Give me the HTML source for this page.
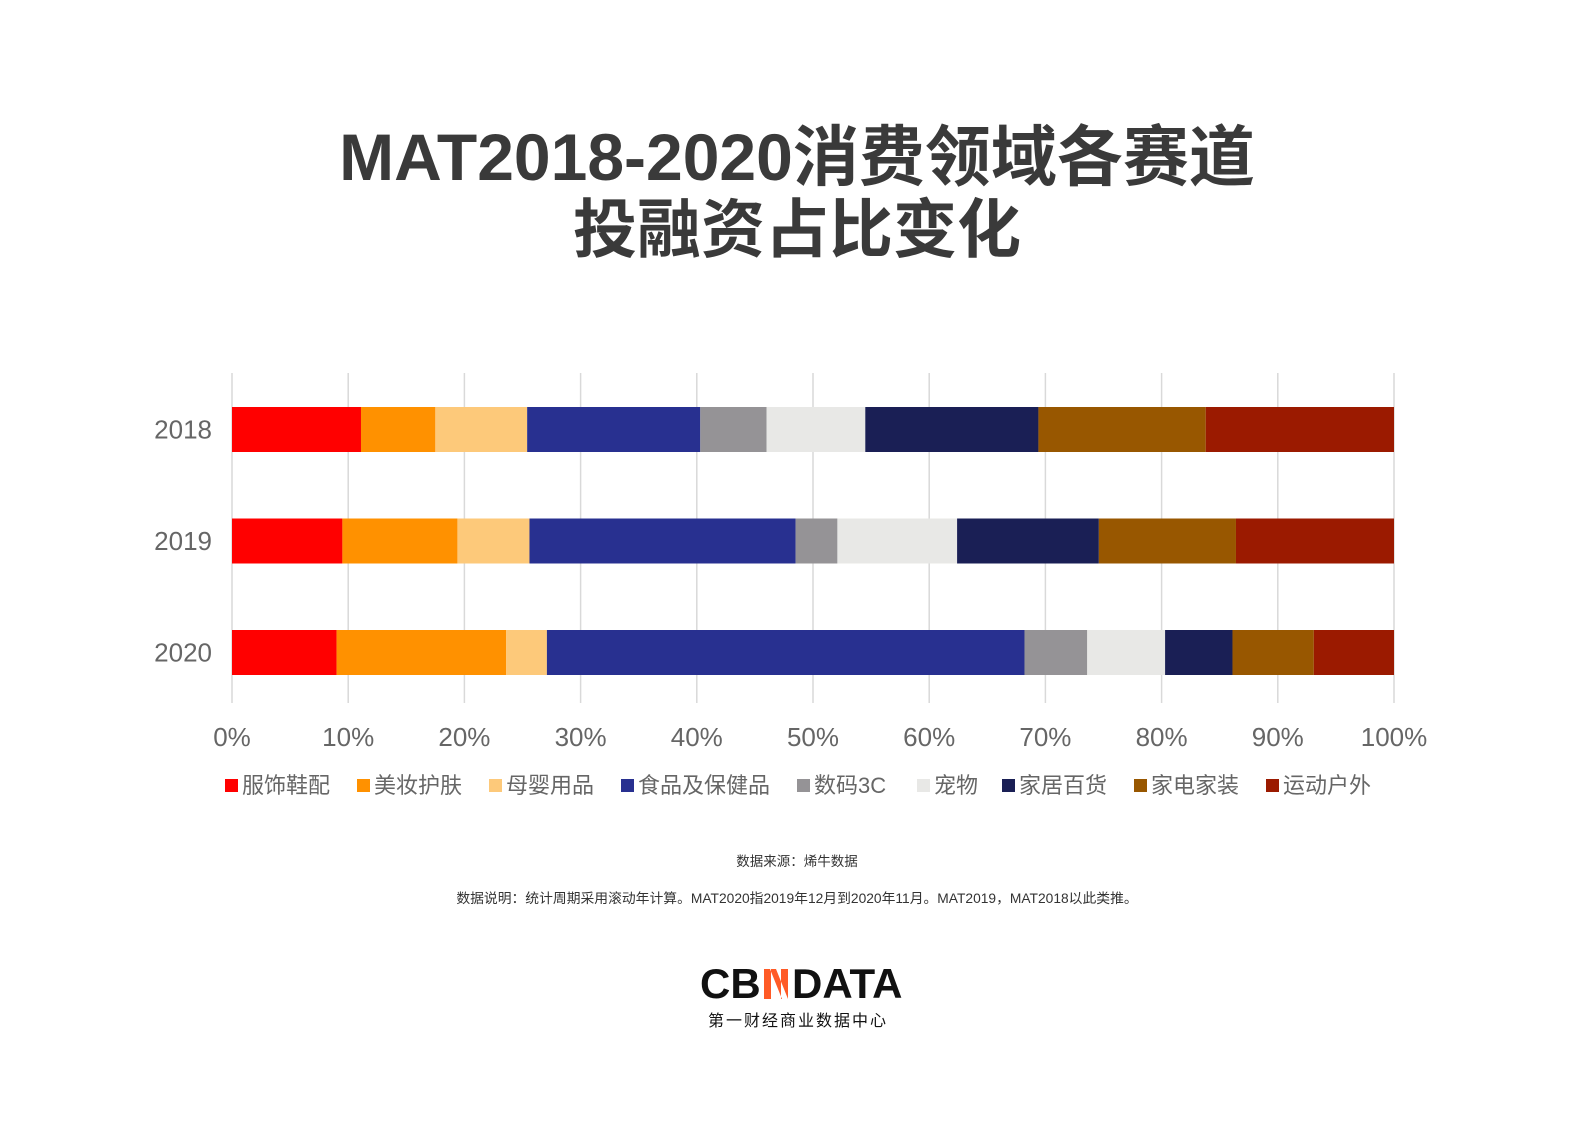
<!DOCTYPE html>
<html><head><meta charset="utf-8"><style>
body{margin:0;width:1594px;height:1130px;background:#fff;overflow:hidden;font-family:"Liberation Sans","Noto Sans CJK SC",sans-serif}
</style></head><body>
<svg id="chart" width="1594" height="1130" xmlns="http://www.w3.org/2000/svg">
<text x="797" y="180" text-anchor="middle" font-size="66" font-weight="bold" fill="#3a3a3a" font-family="Liberation Sans,Noto Sans CJK SC,sans-serif">MAT2018-2020消费领域各赛道</text>
<text x="797" y="252" text-anchor="middle" font-size="64" font-weight="bold" fill="#3a3a3a" font-family="Liberation Sans,Noto Sans CJK SC,sans-serif">投融资占比变化</text>
<g id="grid"></g><g id="bars"></g><g id="legend"></g>
<text x="797" y="866" text-anchor="middle" font-size="13.5" fill="#333">数据来源：烯牛数据</text>
<text x="797" y="903" text-anchor="middle" font-size="13.8" fill="#333">数据说明：统计周期采用滚动年计算。MAT2020指2019年12月到2020年11月。MAT2019，MAT2018以此类推。</text>
<g>
<text x="700" y="998" font-size="42" font-weight="bold" fill="#111" font-family="Liberation Sans,sans-serif">CB</text>
<path d="M764 969h7v30h-7zM781 969h7v30h-7zM770 969l12 30h6l-12-30z" fill="#ff5a26"/>
<text x="792" y="998" font-size="42" font-weight="bold" fill="#111" font-family="Liberation Sans,sans-serif">DATA</text>
<text x="798" y="1026" text-anchor="middle" font-size="16" fill="#111" letter-spacing="2">第一财经商业数据中心</text>
</g>
</svg>
<script>
const categories=["2018","2019","2020"];
const seriesNames=["服饰鞋配","美妆护肤","母婴用品","食品及保健品","数码3C","宠物","家居百货","家电家装","运动户外"];
const seriesColors=["#ff0000","#ff9100","#fdc97a","#283090","#959396","#e8e8e6","#1a1f55","#985700","#9b1a00"];
const s2018=[11.1,6.4,7.9,14.9,5.7,8.5,14.9,14.4,16.2];
const s2019=[9.5,9.9,6.2,22.9,3.6,10.3,12.2,11.8,13.6];
const s2020=[9.0,14.6,3.5,41.1,5.4,6.7,5.8,7.0,6.9];
const values=[s2018,s2019,s2020];
const ticks=[0,10,20,30,40,50,60,70,80,90,100];
const NS="http://www.w3.org/2000/svg";
const x=v=>232+v*11.62;
const yC=i=>429.5+i*111.5;
function mk(t,a,p){const e=document.createElementNS(NS,t);for(const k in a)e.setAttribute(k,a[k]);p.appendChild(e);return e;}
const grid=document.getElementById('grid');
ticks.forEach(t=>{
 const l=mk('line',{x1:x(t),x2:x(t),y1:373,y2:703,stroke:'#d9d9d9','stroke-width':1.5},grid);
 
 
 const tx=mk('text',{x:x(t),y:746,'text-anchor':'middle','font-size':26,fill:'#666'},grid);
 tx.textContent=t+'%';
 
 
});
const bars=document.getElementById('bars');
categories.forEach((c,i)=>{
 const tot=values[i].reduce((a,b)=>a+b,0);
 let acc=0;
 values[i].forEach((v,j)=>{
  const p=v/tot*100;
  const r=mk('rect',{x:x(acc),y:yC(i)-22.5,width:x(acc+p)-x(acc),height:45,fill:seriesColors[j]},bars);
  
  
  acc+=p;
 });
 const t=mk('text',{x:212,y:yC(i)+9,'text-anchor':'end','font-size':26,fill:'#666'},bars);
 t.textContent=c;
 
 
});
const lg=document.getElementById('legend');
const lx=[225,357,489,621,797,917,1002,1134,1266];
seriesNames.forEach((n,j)=>{
 const g=mk('g',{},lg);
 
 
 mk('rect',{x:lx[j],y:779,width:13,height:13,fill:seriesColors[j]},g);
 const t=mk('text',{x:lx[j]+17,y:793,'font-size':22,fill:'#666'},g);
 t.textContent=n;
});
</script>
</body></html>
